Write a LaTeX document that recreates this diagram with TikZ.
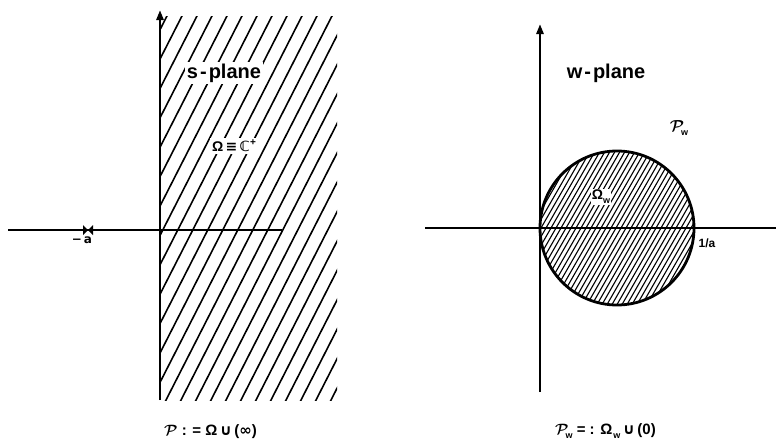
\RequirePackage{fix-cm}
\documentclass[tikz,border=0pt]{standalone}
\usepackage{amsmath}
\usepackage{amssymb}
\usepackage{fontspec}
\setmainfont{Liberation Sans}
\newfontfamily\symfont{DejaVu Sans}
\usetikzlibrary{arrows.meta, positioning}
\newcommand{\scriptP}{$\boldsymbol{\mathcal{P}}$}
\newcommand{\subw}{\raisebox{-4pt}{\fontsize{9}{10}\selectfont w}}

\begin{document}
\begin{tikzpicture}[x=1pt, y=-1pt,
        axis/.style={line width=2.5pt, black},
        uparrow/.style={-{Triangle[length=10pt, width=7pt]}},
        hatch/.style={line width=1.6pt},
        finehatch/.style={line width=1.1pt},
        lbl/.style={font=\bfseries, inner sep=2pt, text=black},
        whitelbl/.style={lbl, fill=white}
    ]
    \useasboundingbox (0,0) rectangle (776,442);

    % s-plane
    \coordinate (sxl) at (8,230);
    \coordinate (sxr) at (282,230);
    \coordinate (syb) at (160,400);
    \coordinate (syt) at (160,10);
    \begin{scope}
        \clip (160,16) rectangle (337,400);
        \foreach \x in {-60,-45,...,340}
            \draw[hatch] (\x,402) -- ({\x+198},14);
    \end{scope}
    \draw[axis] (sxl) -- (sxr);
    \draw[axis, uparrow] (syb) -- (syt);
    \coordinate (pole) at (88,230);
    \fill ([shift={(-5,-5)}]pole) -- ([shift={(5,5)}]pole) -- ([shift={(5,-5)}]pole) -- ([shift={(-5,5)}]pole) -- cycle;
    \node (minusa) [lbl, font=\bfseries\fontsize{12}{13}\selectfont, below=5pt of pole, xshift=-6pt] {\symfont\bfseries −\,a};
    \node (splane) [whitelbl, font=\bfseries\fontsize{20}{22}\selectfont] at (224,73) {s\kern2pt-\kern2pt plane};
    \node (omega) [whitelbl, font=\bfseries\fontsize{14}{15}\selectfont] at (234,146) {Ω\,{\symfont\bfseries ≡}\,{\symfont\bfseries ℂ}\raisebox{6pt}{\fontsize{10}{10}\selectfont +}};
    \node (pdef) [lbl, font=\bfseries\fontsize{15}{16}\selectfont, anchor=west] at (162,432) {\scriptP\ : = Ω\,{\symfont\bfseries ∪}\,({\symfont\bfseries ∞})};

    % w-plane
    \coordinate (wxl) at (425,228);
    \coordinate (wxr) at (776,228);
    \coordinate (wyb) at (540,392);
    \coordinate (wyt) at (540,24);
    \coordinate (wctr) at (617,228);
    \begin{scope}
        \clip (wctr) circle (77);
        \foreach \x in {440,445,...,700}
            \draw[finehatch] (\x,308) -- ({\x+92},148);
    \end{scope}
    \draw[line width=2.8pt] (wctr) circle (77);
    \draw[axis] (wxl) -- (wxr);
    \draw[axis, uparrow] (wyb) -- (wyt);
    \node (wplane) [lbl, font=\bfseries\fontsize{20}{22}\selectfont] at (606,73) {w\kern2pt-\kern2pt plane};
    \node (pw) [lbl, font=\bfseries\fontsize{16}{17}\selectfont] at (679,128) {\scriptP\kern-3pt\subw};
    \node (omegaw) [whitelbl, font=\bfseries\fontsize{14}{15}\selectfont, inner sep=1pt] at (601,197) {Ω\subw};
    \node (inva) [lbl, font=\bfseries\fontsize{12}{13}\selectfont] at (707,243) {1/a};
    \node (pwdef) [lbl, font=\bfseries\fontsize{15}{16}\selectfont, anchor=west] at (553,431) {\scriptP\kern-3pt\subw\ = : Ω\kern1pt\subw\,{\symfont\bfseries ∪}\,(0)};
\end{tikzpicture}
\end{document}
